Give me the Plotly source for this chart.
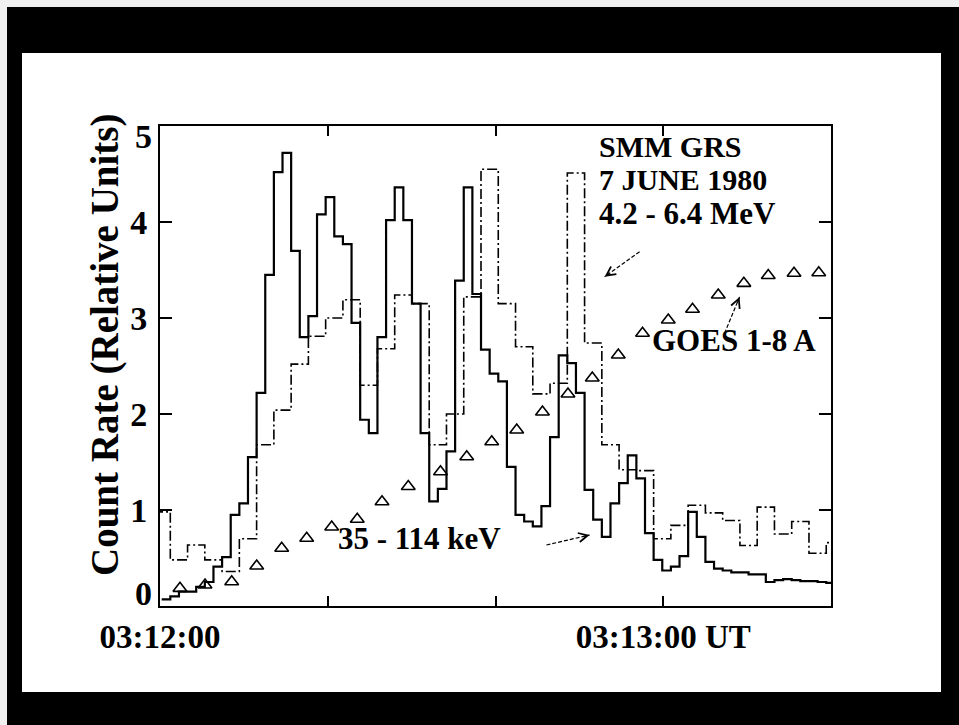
import plotly.graph_objects as go

# ---------------- data ----------------
# 35 - 114 keV (solid histogram), ~1.03 s bins, seconds after 03:12:00
HXR_T0 = 0.20
HXR_DT = 1.029
hxr_counts = [
    0.07, 0.10, 0.15, 0.15, 0.20, 0.25, 0.41, 0.51, 0.95, 1.07,
    1.55, 2.22, 3.45, 4.52, 4.72, 3.70, 2.80, 3.02, 4.08, 4.26,
    3.85, 3.77, 2.95, 1.94, 1.80, 2.80, 4.02, 4.36, 4.02, 3.15,
    1.80, 1.09, 1.22, 1.61, 3.39, 4.36, 3.25, 2.67, 2.42, 2.34,
    1.45, 0.95, 0.88, 0.83, 1.04, 1.76, 2.61, 2.53, 2.22, 1.21,
    0.90, 0.72, 1.07, 1.28, 1.57, 1.33, 0.76, 0.48, 0.37, 0.41,
    0.52, 0.98, 0.72, 0.46, 0.39, 0.37, 0.35, 0.35, 0.33, 0.33,
    0.25, 0.27, 0.28, 0.27, 0.26, 0.26, 0.25, 0.24,
]

# 4.2 - 6.4 MeV (dash-dot histogram), ~2.06 s bins
GAM_T0 = -0.83
GAM_DT = 2.058
gamma_counts = [
    0.98, 0.48, 0.635, 0.48, 0.36, 0.70, 1.68, 2.04, 2.52, 2.81,
    3.00, 3.19, 2.30, 2.68, 3.24, 3.15, 1.68, 2.00, 3.22, 4.55,
    3.15, 2.70, 2.21, 2.32, 4.51, 2.74, 1.68, 1.42, 1.41, 0.70,
    0.84, 1.05, 0.97, 0.89, 0.63, 1.03, 0.75, 0.88, 0.55, 0.66,
]

# GOES 1-8 A (triangles)
goes_time = [2.38, 5.37, 8.55, 11.53, 14.51, 17.49, 20.47, 23.52, 26.47, 29.60,
             33.44, 36.57, 39.55, 42.53, 45.60, 48.64, 51.54, 54.64, 57.53, 60.60,
             63.49, 66.56, 69.61, 72.52, 75.59, 78.54]
goes_flux = [0.184, 0.219, 0.253, 0.417, 0.601, 0.705, 0.823, 0.903, 1.086, 1.245,
             1.399, 1.555, 1.711, 1.833, 2.021, 2.208, 2.375, 2.615, 2.841, 2.979,
             3.091, 3.240, 3.361, 3.443, 3.466, 3.472]

x_tickvals = [0, 20, 40, 60]
x_ticktext = ["03:12:00", "", "", "03:13:00 UT"]
y_tickvals = [1, 2, 3, 4]
y_ticktext = ["1", "2", "3", "4"]

# ---------------- figure ----------------
FONT = "Liberation Serif"


def step_xy(t0, dt, vals):
    xs = [t0 + i * dt for i in range(len(vals) + 1)]
    ys = list(vals) + [vals[-1]]
    return xs, ys


hx, hy = step_xy(HXR_T0, HXR_DT, hxr_counts)
gx, gy = step_xy(GAM_T0, GAM_DT, gamma_counts)

fig = go.Figure()
fig.add_trace(go.Scatter(x=gx, y=gy, mode="lines", line_shape="hv",
                         line=dict(color="black", width=1.6, dash="10px,3px,2px,3px"),
                         hoverinfo="skip", showlegend=False))
fig.add_trace(go.Scatter(x=hx, y=hy, mode="lines", line_shape="hv",
                         line=dict(color="black", width=2.2),
                         hoverinfo="skip", showlegend=False))
fig.add_trace(go.Scatter(x=goes_time, y=goes_flux, mode="markers",
                         marker=dict(symbol="triangle-up-open", size=12, color="black",
                                     line=dict(width=1.6, color="black")),
                         hoverinfo="skip", showlegend=False, cliponaxis=False))

L, R, T, B = 160, 128, 126, 119
W, H = 959, 725
pw, ph = W - L - R, H - T - B


def px2paper_x(px):
    return (px - L) / pw


def px2paper_y(py):
    return (H - B - py) / ph


shapes = [
    dict(type="rect", xref="paper", yref="paper", layer="below",
         x0=px2paper_x(22), x1=px2paper_x(941), y0=px2paper_y(692), y1=px2paper_y(53),
         fillcolor="white", line=dict(width=0)),
    dict(type="rect", xref="paper", yref="paper", layer="below",
         x0=px2paper_x(0), x1=px2paper_x(W), y0=px2paper_y(7), y1=px2paper_y(0),
         fillcolor="#f0f0f0", line=dict(width=0)),
    dict(type="rect", xref="paper", yref="paper", layer="below",
         x0=px2paper_x(0), x1=px2paper_x(7), y0=px2paper_y(H), y1=px2paper_y(0),
         fillcolor="#f0f0f0", line=dict(width=0)),
]

# dashed arrow shafts (data coords: tail -> head)
arrows = [
    ((57.18, 3.69), (53.01, 3.43)),   # 4.2 - 6.4 MeV
    ((67.31, 2.84), (69.10, 3.22)),   # GOES
    ((46.07, 0.635), (51.23, 0.74)),  # 35 - 114 keV
]
for (tx, ty), (hx_, hy_) in arrows:
    shapes.append(dict(type="line", xref="x", yref="y", x0=tx, y0=ty, x1=hx_, y1=hy_,
                       line=dict(color="black", width=1.2, dash="4px,2px")))

ann_font = dict(family=FONT, size=31, color="black", weight="bold")
head_font = dict(family=FONT, size=30, color="black", weight="bold")
tick_font = dict(family=FONT, size=34, color="black", weight="bold")
annotations = [
    dict(x=52.06, y=4.79, text="SMM GRS", showarrow=False, xanchor="left", yanchor="middle", font=head_font),
    dict(x=52.06, y=4.44, text="7 JUNE 1980", showarrow=False, xanchor="left", yanchor="middle", font=head_font),
    dict(x=52.06, y=4.09, text="4.2 - 6.4 MeV", showarrow=False, xanchor="left", yanchor="middle", font=ann_font),
    dict(x=58.38, y=2.77, text="GOES 1-8 A", showarrow=False, xanchor="left", yanchor="middle", font=ann_font),
    dict(x=20.97, y=0.70, text="35 - 114 keV", showarrow=False, xanchor="left", yanchor="middle", font=ann_font),
    dict(xref="paper", x=0, y=4.89, text="5", showarrow=False, xanchor="right", xshift=-6, yanchor="middle", font=tick_font),
    dict(xref="paper", x=0, y=0.135, text="0", showarrow=False, xanchor="right", xshift=-6, yanchor="middle", font=tick_font),
    dict(xref="paper", yref="paper", x=px2paper_x(105), y=px2paper_y(345),
         text="Count Rate (Relative Units)", textangle=-90, showarrow=False,
         xanchor="center", yanchor="middle", font=dict(family=FONT, size=39, color="black", weight="bold")),
]
# arrowheads
heads = [((53.01, 3.43), 6.5, -4.6), ((69.10, 3.22), -3.0, 7.4), ((51.23, 0.74), -7.8, 1.8)]
for (x, y), ax, ay in heads:
    annotations.append(dict(x=x, y=y, ax=ax, ay=ay, text="", showarrow=True, arrowhead=5,
                            arrowsize=1.8, arrowwidth=1, arrowcolor="black"))

fig.update_layout(
    width=W, height=H,
    margin=dict(l=L, r=R, t=T, b=B, pad=0),
    paper_bgcolor="black", plot_bgcolor="rgba(0,0,0,0)",
    shapes=shapes, annotations=annotations,
    showlegend=False,
)
fig.update_xaxes(range=[0, 80], tickvals=x_tickvals, ticktext=x_ticktext,
                 ticks="inside", ticklen=10, tickwidth=2, tickcolor="black",
                 showline=True, linecolor="black", linewidth=2, mirror="ticks",
                 showgrid=False, zeroline=False, ticklabelstandoff=0,
                 tickfont=dict(family=FONT, size=33, color="black", weight="bold"))
fig.update_yaxes(range=[0, 5], tickvals=y_tickvals, ticktext=y_ticktext,
                 ticks="inside", ticklen=12, tickwidth=2, tickcolor="black",
                 showline=True, linecolor="black", linewidth=2, mirror="ticks",
                 showgrid=False, zeroline=False, ticklabelstandoff=4,
                 tickfont=tick_font)

fig.write_html("out.html")
